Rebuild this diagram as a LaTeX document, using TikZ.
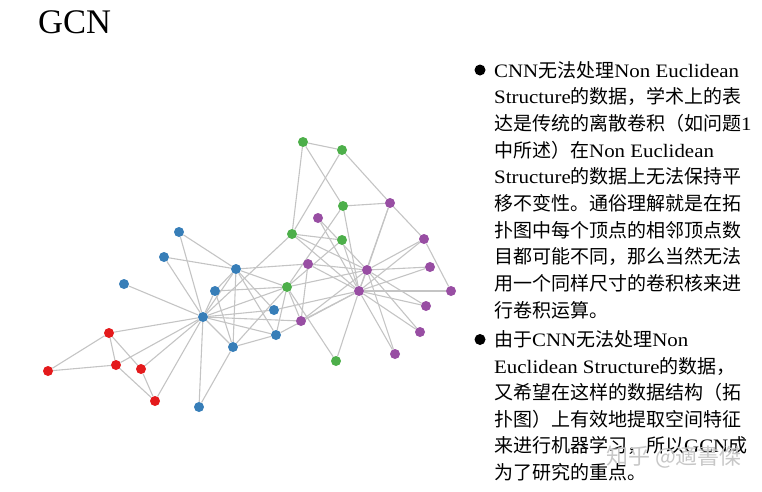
\documentclass[tikz,border=0pt]{standalone}
\usepackage{fontspec}
\setmainfont{Liberation Serif}[FakeStretch=1.1]
\newfontfamily\titlefont{Liberation Serif}
\newfontfamily\cjk{Noto Sans CJK SC}
\newcommand{\zhs}[1]{{\cjk #1}}
\usetikzlibrary{backgrounds}
\definecolor{cblue}{HTML}{377EB8}
\definecolor{cred}{HTML}{E41A1C}
\definecolor{cgreen}{HTML}{4DAF4A}
\definecolor{cpurple}{HTML}{984EA3}
\definecolor{cedge}{HTML}{C4C4C4}
\tikzset{
  vtx/.style={circle,inner sep=0pt,minimum size=10pt},
  vb/.style={vtx,fill=cblue},
  vr/.style={vtx,fill=cred},
  vg/.style={vtx,fill=cgreen},
  vp/.style={vtx,fill=cpurple},
  edge/.style={draw=cedge,line width=1.1pt},
  txt/.style={anchor=base west,inner sep=0pt,font=\fontsize{19}{19}\selectfont},
  bul/.style={circle,fill=black,inner sep=0pt,minimum size=11pt},
  wm/.style={anchor=base west,inner sep=0pt,text=black!22,font=\fontsize{22}{22}\selectfont\cjk}
}
\begin{document}
\begin{tikzpicture}[x=1pt,y=-1pt]
\useasboundingbox (0,0) rectangle (762,491);
\node[anchor=base west,inner sep=0pt,font=\fontsize{34.5}{34.5}\selectfont\titlefont] (title) at (38,33) {GCN};
% vertices (karate club graph)
\node[vb] (n1) at (203,317) {};
\node[vb] (n2) at (236,269) {};
\node[vg] (n3) at (287,287) {};
\node[vb] (n4) at (233,347) {};
\node[vr] (n5) at (155,401) {};
\node[vr] (n6) at (109,333) {};
\node[vr] (n7) at (116,365) {};
\node[vb] (n8) at (215,291) {};
\node[vp] (n9) at (301,321) {};
\node[vg] (n10) at (336,361) {};
\node[vr] (n11) at (141,369) {};
\node[vb] (n12) at (124,284) {};
\node[vb] (n13) at (199,407) {};
\node[vb] (n14) at (276,335) {};
\node[vp] (n15) at (318,218) {};
\node[vp] (n16) at (430,267) {};
\node[vr] (n17) at (48,371) {};
\node[vb] (n18) at (179,232) {};
\node[vp] (n19) at (426,306) {};
\node[vb] (n20) at (274,310) {};
\node[vp] (n21) at (420,332) {};
\node[vb] (n22) at (164,257) {};
\node[vp] (n23) at (395,354) {};
\node[vp] (n24) at (390,203) {};
\node[vg] (n25) at (303,142) {};
\node[vg] (n26) at (342,150) {};
\node[vp] (n27) at (451,291) {};
\node[vg] (n28) at (343,206) {};
\node[vg] (n29) at (342,240) {};
\node[vp] (n30) at (424,239) {};
\node[vp] (n31) at (308,264) {};
\node[vg] (n32) at (292,234) {};
\node[vp] (n33) at (367,270) {};
\node[vp] (n34) at (359,291) {};
\begin{pgfonlayer}{background}
\foreach \a/\b in {1/2,1/3,1/4,1/5,1/6,1/7,1/8,1/9,1/11,1/12,1/13,1/14,1/18,1/20,1/22,1/32,
  2/3,2/4,2/8,2/14,2/18,2/20,2/22,2/31,
  3/4,3/8,3/9,3/10,3/14,3/28,3/29,3/33,
  4/8,4/13,4/14,5/7,5/11,6/7,6/11,6/17,7/17,
  9/31,9/33,9/34,10/34,14/34,15/33,15/34,16/33,16/34,19/33,19/34,20/34,
  21/33,21/34,23/33,23/34,24/26,24/28,24/30,24/33,24/34,25/26,25/28,25/32,
  26/32,27/30,27/34,28/34,29/32,29/34,30/33,30/34,31/33,31/34,32/33,32/34,33/34}
  \draw[edge] (n\a) -- (n\b);
\end{pgfonlayer}
% text
\node[bul] (b1) at (480,70) {};
\node[txt] (l1) at (494,77) {CNN\zhs{无法处理}Non Euclidean};
\node[txt] (l2) at (494,103.7) {Structure\zhs{的数据，学术上的表}};
\node[txt] (l3) at (494,130.4) {\zhs{达是传统的离散卷积（如问题}1};
\node[txt] (l4) at (494,157.1) {\zhs{中所述）在}Non Euclidean};
\node[txt] (l5) at (494,183.8) {Structure\zhs{的数据上无法保持平}};
\node[txt] (l6) at (494,210.5) {\zhs{移不变性。通俗理解就是在拓}};
\node[txt] (l7) at (494,237.2) {\zhs{扑图中每个顶点的相邻顶点数}};
\node[txt] (l8) at (494,263.9) {\zhs{目都可能不同，那么当然无法}};
\node[txt] (l9) at (494,290.6) {\zhs{用一个同样尺寸的卷积核来进}};
\node[txt] (l10) at (494,317.3) {\zhs{行卷积运算。}};
\node[bul] (b2) at (480,339.5) {};
\node[txt] (l11) at (494,346.5) {\zhs{由于}CNN\zhs{无法处理}Non};
\node[txt] (l12) at (494,373) {Euclidean Structure\zhs{的数据，}};
\node[txt] (l13) at (494,399.5) {\zhs{又希望在这样的数据结构（拓}};
\node[txt] (l14) at (494,426) {\zhs{扑图）上有效地提取空间特征}};
\node[txt] (l15) at (494,452.5) {\zhs{来进行机器学习，所以}GCN\zhs{成}};
\node[txt] (l16) at (494,479) {\zhs{为了研究的重点。}};
\node[wm] (wmk) at (606,464) {知乎 @適書傑};
\end{tikzpicture}
\end{document}
